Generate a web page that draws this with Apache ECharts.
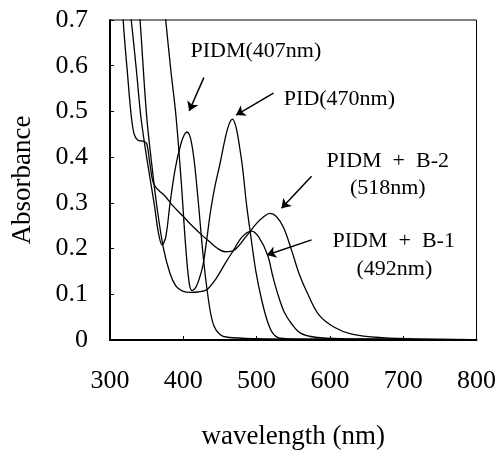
<!DOCTYPE html>
<html>
<head>
<meta charset="utf-8">
<script src="https://cdn.jsdelivr.net/npm/echarts@6/dist/echarts.min.js"></script>
<style>
  html, body { margin: 0; padding: 0; background: #fff; }
  #chart { width: 499px; height: 455px; }
</style>
</head>
<body>
<div id="chart"></div>
<script>
// spectra: [wavelength nm, absorbance]
var pidm = [[320, 0.83], [329, 0.70], [336, 0.59], [342, 0.49], [349, 0.41], [355, 0.35], [361, 0.29], [366, 0.235], [371, 0.208], [376, 0.225], [382, 0.30], [389, 0.375], [396, 0.425], [401, 0.448], [405, 0.455], [410, 0.44], [415, 0.39], [420, 0.31], [428, 0.17], [436, 0.07], [442, 0.03], [450, 0.012], [460, 0.006], [500, 0.003], [600, 0.002], [800, 0.001]]
var pid = [[370, 0.80], [376, 0.70], [383, 0.59], [390, 0.49], [397, 0.35], [403, 0.21], [408, 0.125], [412, 0.108], [417, 0.115], [422, 0.135], [427, 0.165], [432, 0.22], [437, 0.28], [443, 0.335], [450, 0.385], [457, 0.44], [462, 0.47], [467, 0.483], [472, 0.465], [477, 0.42], [481, 0.375], [486, 0.30], [491, 0.24], [499, 0.15], [507, 0.087], [515, 0.04], [522, 0.015], [532, 0.004], [560, 0.002], [800, 0.001]]
var pidmB2 = [[314, 0.85], [318, 0.70], [324, 0.58], [329, 0.49], [333, 0.45], [338, 0.437], [345, 0.435], [350, 0.43], [354, 0.39], [358, 0.35], [362, 0.335], [368, 0.325], [375, 0.315], [385, 0.295], [400, 0.27], [412, 0.25], [425, 0.23], [436, 0.215], [447, 0.2], [457, 0.193], [470, 0.197], [485, 0.225], [500, 0.255], [510, 0.27], [518, 0.277], [527, 0.27], [537, 0.245], [548, 0.195], [558, 0.145], [570, 0.10], [585, 0.055], [606, 0.028], [630, 0.013], [672, 0.005], [720, 0.002], [800, 0.001]]
var pidmB1 = [[335, 0.82], [341, 0.70], [350, 0.49], [358, 0.37], [365, 0.28], [373, 0.20], [382, 0.145], [390, 0.118], [399, 0.107], [410, 0.104], [420, 0.105], [432, 0.11], [445, 0.135], [458, 0.17], [468, 0.195], [480, 0.225], [493, 0.238], [503, 0.225], [515, 0.186], [522, 0.14], [529, 0.10], [538, 0.06], [548, 0.035], [560, 0.015], [580, 0.006], [620, 0.003], [800, 0.001]]

var labels = [
  { text: 'PIDM(407nm)', at: [499, 0.631] },
  { text: 'PID(470nm)', at: [613, 0.527] },
  { text: 'PIDM  +  B-2', at: [679, 0.39] },
  { text: '(518nm)', at: [679, 0.332] },
  { text: 'PIDM  +  B-1', at: [687, 0.215] },
  { text: '(492nm)', at: [688, 0.154] }
]
var arrows = [
  [[428, 0.574], [408, 0.501]],
  [[523, 0.540], [472, 0.492]],
  [[575, 0.358], [534, 0.288]],
  [[575, 0.219], [514, 0.186]]
]

var font = 'Liberation Serif'
var chart = echarts.init(document.getElementById('chart'))

function spectrum(name, data) {
  return {
    name: name,
    type: 'line',
    data: data,
    smooth: 0.35,
    showSymbol: false,
    clip: true,
    lineStyle: { color: '#000', width: 1.3 },
    animation: false
  }
}

var series = [
  spectrum('PIDM', pidm),
  spectrum('PID', pid),
  spectrum('PIDM + B-2', pidmB2),
  spectrum('PIDM + B-1', pidmB1)
]
series[0].markLine = {
  silent: true,
  animation: false,
  symbol: ['none', 'arrow'],
  symbolSize: 9,
  label: { show: false },
  lineStyle: { color: '#000', width: 1.5, type: 'solid' },
  data: arrows.map(function (a) { return [{ coord: a[0] }, { coord: a[1] }] })
}

chart.setOption({
  backgroundColor: '#fff',
  animation: false,
  grid: {
    left: 110, right: 22, top: 20, bottom: 112,
    show: true, borderColor: '#000', borderWidth: 1
  },
  xAxis: {
    type: 'value',
    min: 300, max: 800, interval: 100,
    name: 'wavelength (nm)',
    nameLocation: 'middle',
    nameGap: 83,
    nameTextStyle: { fontFamily: font, fontSize: 27, color: '#000' },
    axisLine: { lineStyle: { color: '#000', width: 2 } },
    axisTick: { inside: true, length: 4, lineStyle: { color: '#000' } },
    axisLabel: { fontFamily: font, fontSize: 26, color: '#000', margin: 28 },
    splitLine: { show: false }
  },
  yAxis: {
    type: 'value',
    min: 0, max: 0.7, interval: 0.1,
    name: 'Absorbance',
    nameLocation: 'middle',
    nameGap: 74,
    nameTextStyle: { fontFamily: font, fontSize: 27, color: '#000' },
    axisLine: { show: true, lineStyle: { color: '#000', width: 2 } },
    axisTick: { show: true, inside: true, length: 4, lineStyle: { color: '#000' } },
    axisLabel: { fontFamily: font, fontSize: 26, color: '#000', margin: 22 },
    splitLine: { show: false }
  },
  series: series
})

chart.setOption({
  graphic: labels.map(function (l) {
    var p = chart.convertToPixel({ gridIndex: 0 }, l.at)
    return {
      type: 'text',
      x: p[0], y: p[1],
      style: {
        text: l.text,
        fontFamily: font,
        fontSize: 22,
        fill: '#000',
        textAlign: 'center',
        textVerticalAlign: 'middle'
      }
    }
  })
})
</script>
</body>
</html>
